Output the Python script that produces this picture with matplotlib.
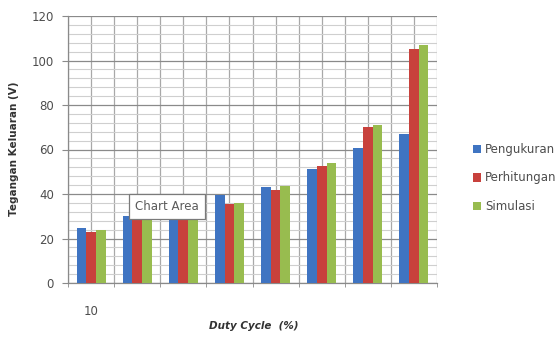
import numpy as np
import matplotlib
matplotlib.use("Agg")
import matplotlib.pyplot as plt
from matplotlib.ticker import MultipleLocator

# Output voltage per duty-cycle step
tick_labels = ["10", "", "", "", "", "", "", ""]
series_names = ["Pengukuran", "Perhitungan", "Simulasi"]
pengukuran = [24.8, 30.0, 32.0, 39.5, 43.3, 51.1, 60.5, 66.8]
perhitungan = [22.8, 28.5, 30.5, 35.4, 41.6, 52.4, 70.0, 105.3]
simulasi = [23.7, 29.0, 31.0, 35.8, 43.4, 53.8, 71.0, 107.0]
colors = ["#3F74C2", "#C8413C", "#98BC4F"]

plt.rcParams["font.family"] = ["DejaVu Sans"]

fig = plt.figure(figsize=(5.6, 3.42), dpi=100)
ax = fig.add_axes([68 / 560, 59 / 342, 369 / 560, 267 / 342])

x = np.arange(len(tick_labels))
w = 0.21
for k, vals in enumerate([pengukuran, perhitungan, simulasi]):
    ax.bar(x + (k - 1) * w, vals, width=w, color=colors[k],
           label=series_names[k], zorder=3, linewidth=0)

ax.set_xlim(-0.5, len(tick_labels) - 0.5)
ax.set_ylim(0, 120)
ax.yaxis.set_major_locator(MultipleLocator(20))
ax.yaxis.set_minor_locator(MultipleLocator(4))
ax.set_xticks(x)
ax.set_xticklabels(tick_labels)
ax.set_xticks(np.arange(-0.5, len(tick_labels), 1.0), minor=True)

ax.grid(which="major", axis="y", color="#8a8a8a", linewidth=0.9, zorder=0)
ax.grid(which="minor", axis="y", color="#cfcfcf", linewidth=0.8, zorder=0)
ax.grid(which="both", axis="x", color="#a8a8a8", linewidth=0.9, zorder=0)

for s in ["top", "right"]:
    ax.spines[s].set_visible(False)
for s in ["left", "bottom"]:
    ax.spines[s].set_color("#8a8a8a")
    ax.spines[s].set_linewidth(0.9)

ax.tick_params(axis="y", which="major", length=4, color="#8a8a8a",
               labelsize=8.5, labelcolor="#4d4d4d", pad=6)
ax.tick_params(axis="y", which="minor", length=0)
ax.tick_params(axis="x", which="major", length=0, labelsize=8.5,
               labelcolor="#4d4d4d", pad=16)
ax.tick_params(axis="x", which="minor", length=3, color="#8a8a8a")

fig.text(14 / 560, 1 - 149 / 342, "Tegangan Keluaran (V)", rotation=90,
         ha="center", va="center", fontsize=7.5, fontweight="bold",
         color="#333333")
fig.text(254 / 560, 1 - 326 / 342, "Duty Cycle  (%)", ha="center",
         va="center", fontsize=7.5, fontweight="bold", fontstyle="italic",
         color="#333333")

fig.legend(loc="center left", bbox_to_anchor=(462 / 560, 1 - 178 / 342),
           frameon=False, fontsize=8.5, handlelength=0.7, handleheight=0.7,
           handletextpad=0.35, labelspacing=1.3, labelcolor="#4d4d4d")

fig.text(167 / 560, 1 - 206.5 / 342, "Chart Area", ha="center", va="center",
         fontsize=8.5, color="#5a5a5a", zorder=10,
         bbox=dict(boxstyle="square,pad=0.5", facecolor="white",
                   edgecolor="#7a7a7a", linewidth=0.9))

fig.savefig("out.png", dpi=100)
